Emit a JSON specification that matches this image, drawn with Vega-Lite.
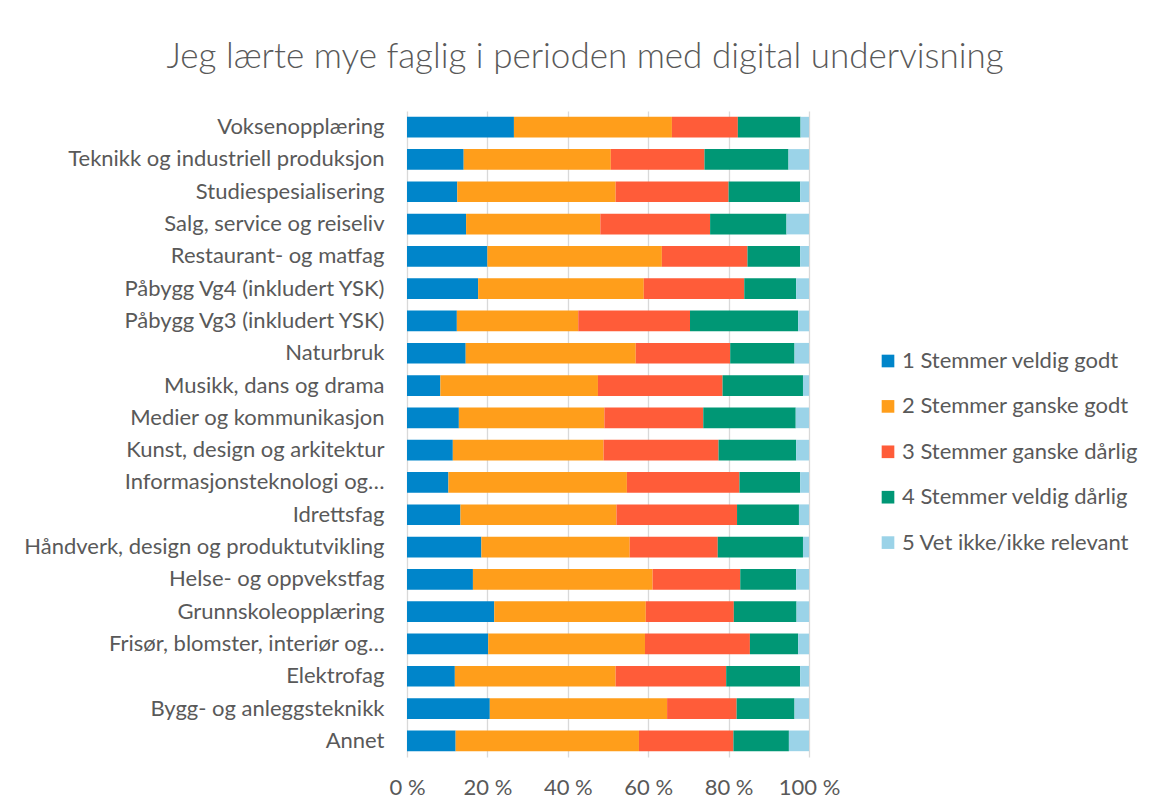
{
  "$schema": "https://vega.github.io/schema/vega-lite/v6.json",
  "width": 402,
  "height": 646,
  "autosize": {"type": "none"},
  "padding": {"left": 407, "top": 111, "right": 343, "bottom": 52},
  "background": "white",
  "title": {
    "text": "Jeg lærte mye faglig i perioden med digital undervisning",
    "anchor": "middle",
    "frame": "group",
    "dx": -23,
    "offset": 36,
    "font": "Lato",
    "fontWeight": 300,
    "fontSize": 35,
    "color": "#595959"
  },
  "config": {
    "view": {"stroke": null},
    "font": "Lato"
  },
  "data": {
    "values": [
      {"kategori": "Voksenopplæring", "svar": "1 Stemmer veldig godt", "verdi": 26.6},
      {"kategori": "Voksenopplæring", "svar": "2 Stemmer ganske godt", "verdi": 39.3},
      {"kategori": "Voksenopplæring", "svar": "3 Stemmer ganske dårlig", "verdi": 16.4},
      {"kategori": "Voksenopplæring", "svar": "4 Stemmer veldig dårlig", "verdi": 15.6},
      {"kategori": "Voksenopplæring", "svar": "5 Vet ikke/ikke relevant", "verdi": 2.1},
      {"kategori": "Teknikk og industriell produksjon", "svar": "1 Stemmer veldig godt", "verdi": 14.1},
      {"kategori": "Teknikk og industriell produksjon", "svar": "2 Stemmer ganske godt", "verdi": 36.6},
      {"kategori": "Teknikk og industriell produksjon", "svar": "3 Stemmer ganske dårlig", "verdi": 23.3},
      {"kategori": "Teknikk og industriell produksjon", "svar": "4 Stemmer veldig dårlig", "verdi": 20.9},
      {"kategori": "Teknikk og industriell produksjon", "svar": "5 Vet ikke/ikke relevant", "verdi": 5.1},
      {"kategori": "Studiespesialisering", "svar": "1 Stemmer veldig godt", "verdi": 12.5},
      {"kategori": "Studiespesialisering", "svar": "2 Stemmer ganske godt", "verdi": 39.4},
      {"kategori": "Studiespesialisering", "svar": "3 Stemmer ganske dårlig", "verdi": 28.1},
      {"kategori": "Studiespesialisering", "svar": "4 Stemmer veldig dårlig", "verdi": 17.8},
      {"kategori": "Studiespesialisering", "svar": "5 Vet ikke/ikke relevant", "verdi": 2.2},
      {"kategori": "Salg, service og reiseliv", "svar": "1 Stemmer veldig godt", "verdi": 14.7},
      {"kategori": "Salg, service og reiseliv", "svar": "2 Stemmer ganske godt", "verdi": 33.4},
      {"kategori": "Salg, service og reiseliv", "svar": "3 Stemmer ganske dårlig", "verdi": 27.3},
      {"kategori": "Salg, service og reiseliv", "svar": "4 Stemmer veldig dårlig", "verdi": 19.0},
      {"kategori": "Salg, service og reiseliv", "svar": "5 Vet ikke/ikke relevant", "verdi": 5.6},
      {"kategori": "Restaurant- og matfag", "svar": "1 Stemmer veldig godt", "verdi": 20.0},
      {"kategori": "Restaurant- og matfag", "svar": "2 Stemmer ganske godt", "verdi": 43.4},
      {"kategori": "Restaurant- og matfag", "svar": "3 Stemmer ganske dårlig", "verdi": 21.3},
      {"kategori": "Restaurant- og matfag", "svar": "4 Stemmer veldig dårlig", "verdi": 13.1},
      {"kategori": "Restaurant- og matfag", "svar": "5 Vet ikke/ikke relevant", "verdi": 2.2},
      {"kategori": "Påbygg Vg4 (inkludert YSK)", "svar": "1 Stemmer veldig godt", "verdi": 17.7},
      {"kategori": "Påbygg Vg4 (inkludert YSK)", "svar": "2 Stemmer ganske godt", "verdi": 41.2},
      {"kategori": "Påbygg Vg4 (inkludert YSK)", "svar": "3 Stemmer ganske dårlig", "verdi": 25.0},
      {"kategori": "Påbygg Vg4 (inkludert YSK)", "svar": "4 Stemmer veldig dårlig", "verdi": 12.9},
      {"kategori": "Påbygg Vg4 (inkludert YSK)", "svar": "5 Vet ikke/ikke relevant", "verdi": 3.2},
      {"kategori": "Påbygg Vg3 (inkludert YSK)", "svar": "1 Stemmer veldig godt", "verdi": 12.4},
      {"kategori": "Påbygg Vg3 (inkludert YSK)", "svar": "2 Stemmer ganske godt", "verdi": 30.2},
      {"kategori": "Påbygg Vg3 (inkludert YSK)", "svar": "3 Stemmer ganske dårlig", "verdi": 27.8},
      {"kategori": "Påbygg Vg3 (inkludert YSK)", "svar": "4 Stemmer veldig dårlig", "verdi": 26.9},
      {"kategori": "Påbygg Vg3 (inkludert YSK)", "svar": "5 Vet ikke/ikke relevant", "verdi": 2.7},
      {"kategori": "Naturbruk", "svar": "1 Stemmer veldig godt", "verdi": 14.6},
      {"kategori": "Naturbruk", "svar": "2 Stemmer ganske godt", "verdi": 42.3},
      {"kategori": "Naturbruk", "svar": "3 Stemmer ganske dårlig", "verdi": 23.5},
      {"kategori": "Naturbruk", "svar": "4 Stemmer veldig dårlig", "verdi": 16.0},
      {"kategori": "Naturbruk", "svar": "5 Vet ikke/ikke relevant", "verdi": 3.6},
      {"kategori": "Musikk, dans og drama", "svar": "1 Stemmer veldig godt", "verdi": 8.3},
      {"kategori": "Musikk, dans og drama", "svar": "2 Stemmer ganske godt", "verdi": 39.2},
      {"kategori": "Musikk, dans og drama", "svar": "3 Stemmer ganske dårlig", "verdi": 31.0},
      {"kategori": "Musikk, dans og drama", "svar": "4 Stemmer veldig dårlig", "verdi": 20.0},
      {"kategori": "Musikk, dans og drama", "svar": "5 Vet ikke/ikke relevant", "verdi": 1.5},
      {"kategori": "Medier og kommunikasjon", "svar": "1 Stemmer veldig godt", "verdi": 12.9},
      {"kategori": "Medier og kommunikasjon", "svar": "2 Stemmer ganske godt", "verdi": 36.2},
      {"kategori": "Medier og kommunikasjon", "svar": "3 Stemmer ganske dårlig", "verdi": 24.6},
      {"kategori": "Medier og kommunikasjon", "svar": "4 Stemmer veldig dårlig", "verdi": 23.0},
      {"kategori": "Medier og kommunikasjon", "svar": "5 Vet ikke/ikke relevant", "verdi": 3.3},
      {"kategori": "Kunst, design og arkitektur", "svar": "1 Stemmer veldig godt", "verdi": 11.4},
      {"kategori": "Kunst, design og arkitektur", "svar": "2 Stemmer ganske godt", "verdi": 37.5},
      {"kategori": "Kunst, design og arkitektur", "svar": "3 Stemmer ganske dårlig", "verdi": 28.6},
      {"kategori": "Kunst, design og arkitektur", "svar": "4 Stemmer veldig dårlig", "verdi": 19.3},
      {"kategori": "Kunst, design og arkitektur", "svar": "5 Vet ikke/ikke relevant", "verdi": 3.2},
      {"kategori": "Informasjonsteknologi og…", "svar": "1 Stemmer veldig godt", "verdi": 10.3},
      {"kategori": "Informasjonsteknologi og…", "svar": "2 Stemmer ganske godt", "verdi": 44.4},
      {"kategori": "Informasjonsteknologi og…", "svar": "3 Stemmer ganske dårlig", "verdi": 28.0},
      {"kategori": "Informasjonsteknologi og…", "svar": "4 Stemmer veldig dårlig", "verdi": 15.1},
      {"kategori": "Informasjonsteknologi og…", "svar": "5 Vet ikke/ikke relevant", "verdi": 2.2},
      {"kategori": "Idrettsfag", "svar": "1 Stemmer veldig godt", "verdi": 13.3},
      {"kategori": "Idrettsfag", "svar": "2 Stemmer ganske godt", "verdi": 38.8},
      {"kategori": "Idrettsfag", "svar": "3 Stemmer ganske dårlig", "verdi": 30.0},
      {"kategori": "Idrettsfag", "svar": "4 Stemmer veldig dårlig", "verdi": 15.4},
      {"kategori": "Idrettsfag", "svar": "5 Vet ikke/ikke relevant", "verdi": 2.5},
      {"kategori": "Håndverk, design og produktutvikling", "svar": "1 Stemmer veldig godt", "verdi": 18.5},
      {"kategori": "Håndverk, design og produktutvikling", "svar": "2 Stemmer ganske godt", "verdi": 36.9},
      {"kategori": "Håndverk, design og produktutvikling", "svar": "3 Stemmer ganske dårlig", "verdi": 21.9},
      {"kategori": "Håndverk, design og produktutvikling", "svar": "4 Stemmer veldig dårlig", "verdi": 21.2},
      {"kategori": "Håndverk, design og produktutvikling", "svar": "5 Vet ikke/ikke relevant", "verdi": 1.5},
      {"kategori": "Helse- og oppvekstfag", "svar": "1 Stemmer veldig godt", "verdi": 16.4},
      {"kategori": "Helse- og oppvekstfag", "svar": "2 Stemmer ganske godt", "verdi": 44.7},
      {"kategori": "Helse- og oppvekstfag", "svar": "3 Stemmer ganske dårlig", "verdi": 21.8},
      {"kategori": "Helse- og oppvekstfag", "svar": "4 Stemmer veldig dårlig", "verdi": 13.9},
      {"kategori": "Helse- og oppvekstfag", "svar": "5 Vet ikke/ikke relevant", "verdi": 3.2},
      {"kategori": "Grunnskoleopplæring", "svar": "1 Stemmer veldig godt", "verdi": 21.7},
      {"kategori": "Grunnskoleopplæring", "svar": "2 Stemmer ganske godt", "verdi": 37.7},
      {"kategori": "Grunnskoleopplæring", "svar": "3 Stemmer ganske dårlig", "verdi": 21.9},
      {"kategori": "Grunnskoleopplæring", "svar": "4 Stemmer veldig dårlig", "verdi": 15.6},
      {"kategori": "Grunnskoleopplæring", "svar": "5 Vet ikke/ikke relevant", "verdi": 3.1},
      {"kategori": "Frisør, blomster, interiør og…", "svar": "1 Stemmer veldig godt", "verdi": 20.2},
      {"kategori": "Frisør, blomster, interiør og…", "svar": "2 Stemmer ganske godt", "verdi": 39.0},
      {"kategori": "Frisør, blomster, interiør og…", "svar": "3 Stemmer ganske dårlig", "verdi": 26.1},
      {"kategori": "Frisør, blomster, interiør og…", "svar": "4 Stemmer veldig dårlig", "verdi": 12.0},
      {"kategori": "Frisør, blomster, interiør og…", "svar": "5 Vet ikke/ikke relevant", "verdi": 2.7},
      {"kategori": "Elektrofag", "svar": "1 Stemmer veldig godt", "verdi": 11.9},
      {"kategori": "Elektrofag", "svar": "2 Stemmer ganske godt", "verdi": 40.0},
      {"kategori": "Elektrofag", "svar": "3 Stemmer ganske dårlig", "verdi": 27.5},
      {"kategori": "Elektrofag", "svar": "4 Stemmer veldig dårlig", "verdi": 18.4},
      {"kategori": "Elektrofag", "svar": "5 Vet ikke/ikke relevant", "verdi": 2.2},
      {"kategori": "Bygg- og anleggsteknikk", "svar": "1 Stemmer veldig godt", "verdi": 20.6},
      {"kategori": "Bygg- og anleggsteknikk", "svar": "2 Stemmer ganske godt", "verdi": 44.1},
      {"kategori": "Bygg- og anleggsteknikk", "svar": "3 Stemmer ganske dårlig", "verdi": 17.3},
      {"kategori": "Bygg- og anleggsteknikk", "svar": "4 Stemmer veldig dårlig", "verdi": 14.4},
      {"kategori": "Bygg- og anleggsteknikk", "svar": "5 Vet ikke/ikke relevant", "verdi": 3.6},
      {"kategori": "Annet", "svar": "1 Stemmer veldig godt", "verdi": 12.1},
      {"kategori": "Annet", "svar": "2 Stemmer ganske godt", "verdi": 45.6},
      {"kategori": "Annet", "svar": "3 Stemmer ganske dårlig", "verdi": 23.5},
      {"kategori": "Annet", "svar": "4 Stemmer veldig dårlig", "verdi": 13.8},
      {"kategori": "Annet", "svar": "5 Vet ikke/ikke relevant", "verdi": 5.0}
    ]
  },
  "mark": {"type": "bar"},
  "encoding": {
    "y": {
      "field": "kategori",
      "type": "nominal",
      "sort": null,
      "scale": {"paddingInner": 0.36, "paddingOuter": 0.18},
      "axis": {
        "title": null,
        "domain": false,
        "ticks": false,
        "labelPadding": 23,
        "labelLimit": 400,
        "labelFontSize": 22,
        "labelColor": "#595959",
        "labelFont": "Lato"
      }
    },
    "x": {
      "field": "verdi",
      "type": "quantitative",
      "stack": "normalize",
      "scale": {"domain": [0, 1], "nice": false},
      "axis": {
        "title": null,
        "values": [0, 0.2, 0.4, 0.6, 0.8, 1],
        "labelExpr": "round(datum.value * 100) + ' %'",
        "labelFlush": false,
        "domain": false,
        "ticks": false,
        "grid": true,
        "gridColor": "#D9D9D9",
        "gridWidth": 1.3,
        "labelPadding": 20,
        "labelFontSize": 22,
        "labelColor": "#595959",
        "labelFont": "Lato"
      }
    },
    "color": {
      "field": "svar",
      "type": "nominal",
      "scale": {
        "domain": ["1 Stemmer veldig godt", "2 Stemmer ganske godt", "3 Stemmer ganske dårlig", "4 Stemmer veldig dårlig", "5 Vet ikke/ikke relevant"],
        "range": ["#0085CA", "#FF9E1B", "#FF5C39", "#009775", "#9BD3E8"]
      },
      "legend": {
        "title": null,
        "orient": "none",
        "legendX": 470,
        "legendY": 239,
        "symbolType": "square",
        "symbolSize": 160,
        "symbolStrokeWidth": 0,
        "labelFontSize": 22,
        "labelColor": "#595959",
        "labelFont": "Lato",
        "labelOffset": 3,
        "labelLimit": 400,
        "rowPadding": 23.4
      }
    },
    "order": {"field": "svar", "type": "nominal"}
  }
}
